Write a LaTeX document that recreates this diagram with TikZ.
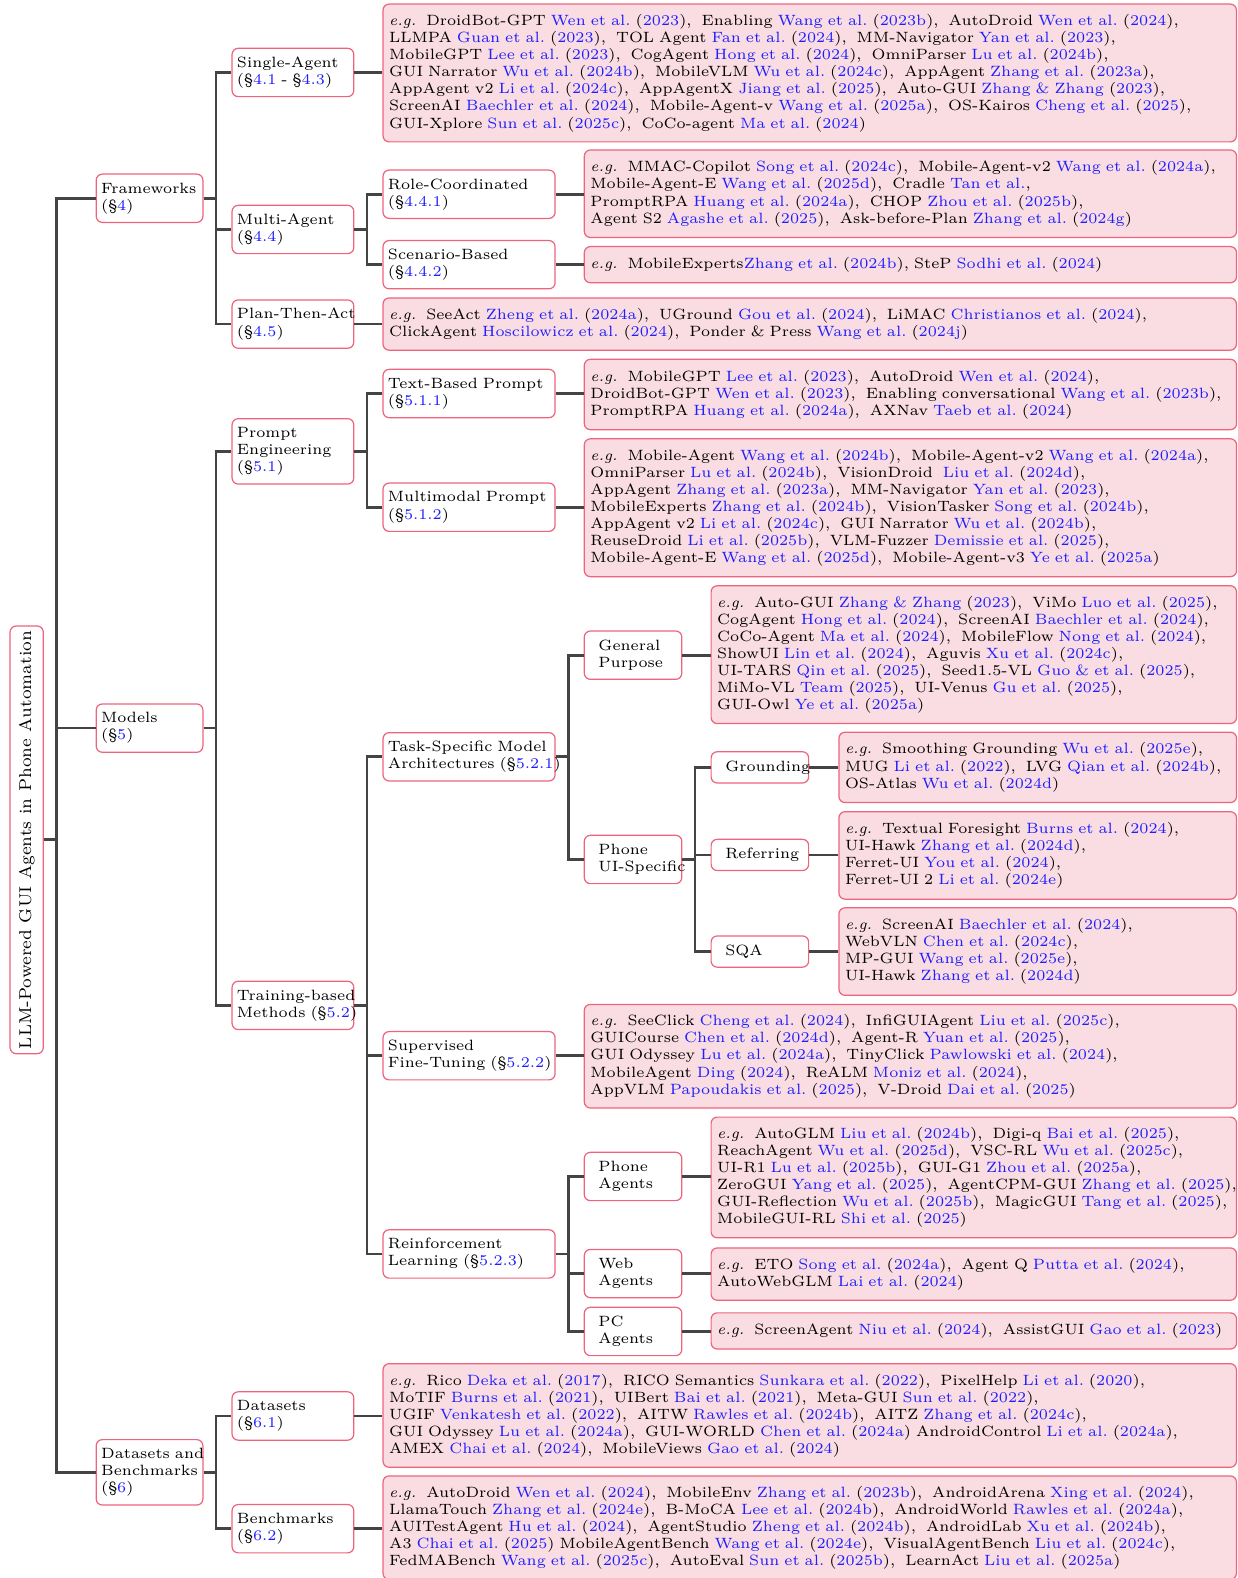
\documentclass[tikz,border=0pt]{standalone}
\usepackage{graphicx}
\usepackage{xcolor}
\definecolor{bordc}{RGB}{238,100,125}
\definecolor{leafc}{RGB}{250,221,226}
\definecolor{linec}{RGB}{68,68,68}
\definecolor{citec}{RGB}{30,30,255}
\newcommand\fs{\fontsize{6.1}{7}\selectfont}
\newcommand\ct[2]{\textcolor{citec}{#1}\ (\textcolor{citec}{#2})}
\newcommand\sref[1]{(\S\textcolor{citec}{#1})}
\newcommand\egx{\textit{e.g.}\ \ }
\newcommand\sepx{,\ \ }
\newcommand\lne[1]{\mbox{#1}}
\newcommand\forkto[2]{\draw[conn] (#1.east) -- ++(12.5,0) |- (#2.west);}
\newcommand\lineto[2]{\draw[conn] (#1.east) -- (#1.east -| #2.west);}
\begin{document}
\begin{tikzpicture}[x=0.4118pt,y=-0.4118pt,
  conn/.style={draw=linec, line width=1.1pt},
  ibox/.style={draw=bordc, fill=white, rounded corners=2.5pt, line width=0.5pt, align=left, anchor=west, font=\fs, inner xsep=2pt, inner ysep=1pt},
  lbox/.style={ibox, fill=leafc, inner xsep=2.5pt},
  wa/.style={text width=39.65pt},
  wb/.style={text width=45.8pt},
  wc/.style={text width=66.4pt},
  wd/.style={inner xsep=5.8pt, text width=28.3pt},
  lwc/.style={text width=344.2pt},
  lwd/.style={text width=261.9pt},
  lwe/.style={text width=210.0pt},
  lwf/.style={text width=157.7pt},
  ha/.style={minimum height=12.77pt},
  hb/.style={minimum height=19.77pt},
  hc/.style={minimum height=26.77pt},
  la/.style={minimum height=14.8pt},
  lb/.style={minimum height=21.4pt},
  lc/.style={minimum height=28.8pt},
  ld/.style={minimum height=35.8pt},
  le/.style={minimum height=42.4pt},
  lf/.style={minimum height=49.4pt},
  lg/.style={minimum height=56.4pt}
]
\useasboundingbox (0,0) rectangle (1230,1568);
% root
\node[ibox, anchor=center, minimum width=13.6pt, minimum height=175pt, inner sep=0pt] (root) at (26.5,834.5)
  {\rotatebox{90}{\fontsize{7}{8.4}\selectfont LLM-Powered GUI Agents in Phone Automation}};
% level 1
\node[ibox,wa,hb] (fw) at (95,197) {\lne{Frameworks}\\\lne{\sref{4}}};
\node[ibox,wa,hb] (models) at (95,723.5) {\lne{Models}\\\lne{\sref{5}}};
\node[ibox,wa,hc] (dnb) at (95,1463) {\lne{Datasets and}\\\lne{Benchmarks}\\\lne{\sref{6}}};
% level 2
\node[ibox,wb,hb] (single) at (230,72) {\lne{Single-Agent}\\\lne{(\S\textcolor{citec}{4.1} - \S\textcolor{citec}{4.3})}};
\node[ibox,wb,hb] (multi) at (230,228) {\lne{Multi-Agent}\\\lne{\sref{4.4}}};
\node[ibox,wb,hb] (plan) at (230,322) {\lne{Plan-Then-Act}\\\lne{\sref{4.5}}};
\node[ibox,wb,hc] (prompt) at (230,448.5) {\lne{Prompt}\\\lne{Engineering}\\\lne{\sref{5.1}}};
\node[ibox,wb,hb] (train) at (230,999) {\lne{Training-based}\\\lne{Methods \sref{5.2}}};
\node[ibox,wb,hb] (datasets) at (230,1407) {\lne{Datasets}\\\lne{\sref{6.1}}};
\node[ibox,wb,hb] (bench) at (230,1519) {\lne{Benchmarks}\\\lne{\sref{6.2}}};
% level 3
\node[ibox,wc,hb] (role) at (380,193) {\lne{Role-Coordinated}\\\lne{\sref{4.4.1}}};
\node[ibox,wc,hb] (scen) at (380,263) {\lne{Scenario-Based}\\\lne{\sref{4.4.2}}};
\node[ibox,wc,hb] (textp) at (380,391) {\lne{Text-Based Prompt}\\\lne{\sref{5.1.1}}};
\node[ibox,wc,hb] (multip) at (380,504) {\lne{Multimodal Prompt}\\\lne{\sref{5.1.2}}};
\node[ibox,wc,hb] (task) at (380,752) {\lne{Task-Specific Model}\\\lne{Architectures \sref{5.2.1}}};
\node[ibox,wc,hb] (sft) at (380,1049) {\lne{Supervised}\\\lne{Fine-Tuning \sref{5.2.2}}};
\node[ibox,wc,hb] (rl) at (380,1246) {\lne{Reinforcement}\\\lne{Learning \sref{5.2.3}}};
% level 4
\node[ibox,wd,hb] (gp) at (580,651) {\lne{General}\\\lne{Purpose}};
\node[ibox,wd,hb] (pui) at (580,854) {\lne{Phone}\\\lne{UI-Specific}};
\node[ibox,wd,hb] (phonea) at (580,1169) {\lne{Phone}\\\lne{Agents}};
\node[ibox,wd,hb] (weba) at (580,1265.5) {\lne{Web}\\\lne{Agents}};
\node[ibox,wd,hb] (pca) at (580,1323) {\lne{PC}\\\lne{Agents}};
% level 5
\node[ibox,wd,ha] (ground) at (706,762.5) {\lne{Grounding}};
\node[ibox,wd,ha] (refer) at (706,849.5) {\lne{Referring}};
\node[ibox,wd,ha] (sqa) at (706,945.5) {\lne{SQA}};
% leaves at 380
\node[lbox,lwc,lg] (singleleaf) at (380,72.5) {%
\lne{\egx DroidBot-GPT \ct{Wen et al.}{2023}\sepx Enabling \ct{Wang et al.}{2023b}\sepx AutoDroid \ct{Wen et al.}{2024},}\\
\lne{LLMPA \ct{Guan et al.}{2023}\sepx TOL Agent \ct{Fan et al.}{2024}\sepx MM-Navigator \ct{Yan et al.}{2023},}\\
\lne{MobileGPT \ct{Lee et al.}{2023}\sepx CogAgent \ct{Hong et al.}{2024}\sepx OmniParser \ct{Lu et al.}{2024b},}\\
\lne{GUI Narrator \ct{Wu et al.}{2024b}\sepx MobileVLM \ct{Wu et al.}{2024c}\sepx AppAgent \ct{Zhang et al.}{2023a},}\\
\lne{AppAgent v2 \ct{Li et al.}{2024c}\sepx AppAgentX \ct{Jiang et al.}{2025}\sepx Auto-GUI \ct{Zhang \& Zhang}{2023},}\\
\lne{ScreenAI \ct{Baechler et al.}{2024}\sepx Mobile-Agent-v \ct{Wang et al.}{2025a}\sepx OS-Kairos \ct{Cheng et al.}{2025},}\\
\lne{GUI-Xplore \ct{Sun et al.}{2025c}\sepx CoCo-agent \ct{Ma et al.}{2024}}};
\node[lbox,lwc,lb] (planleaf) at (380,322) {%
\lne{\egx SeeAct \ct{Zheng et al.}{2024a}\sepx UGround \ct{Gou et al.}{2024}\sepx LiMAC \ct{Christianos et al.}{2024},}\\
\lne{ClickAgent \ct{Hoscilowicz et al.}{2024}\sepx Ponder \& Press \ct{Wang et al.}{2024j}}};
\node[lbox,lwc,le] (datasetsleaf) at (380,1406.5) {%
\lne{\egx Rico \ct{Deka et al.}{2017}\sepx RICO Semantics \ct{Sunkara et al.}{2022}\sepx PixelHelp \ct{Li et al.}{2020},}\\
\lne{MoTIF \ct{Burns et al.}{2021}\sepx UIBert \ct{Bai et al.}{2021}\sepx Meta-GUI \ct{Sun et al.}{2022},}\\
\lne{UGIF \ct{Venkatesh et al.}{2022}\sepx AITW \ct{Rawles et al.}{2024b}\sepx AITZ \ct{Zhang et al.}{2024c},}\\
\lne{GUI Odyssey \ct{Lu et al.}{2024a}\sepx GUI-WORLD \ct{Chen et al.}{2024a} AndroidControl \ct{Li et al.}{2024a},}\\
\lne{AMEX \ct{Chai et al.}{2024}\sepx MobileViews \ct{Gao et al.}{2024}}};
\node[lbox,lwc,le] (benchleaf) at (380,1518) {%
\lne{\egx AutoDroid \ct{Wen et al.}{2024}\sepx MobileEnv \ct{Zhang et al.}{2023b}\sepx AndroidArena \ct{Xing et al.}{2024},}\\
\lne{LlamaTouch \ct{Zhang et al.}{2024e}\sepx B-MoCA \ct{Lee et al.}{2024b}\sepx AndroidWorld \ct{Rawles et al.}{2024a},}\\
\lne{AUITestAgent \ct{Hu et al.}{2024}\sepx AgentStudio \ct{Zheng et al.}{2024b}\sepx AndroidLab \ct{Xu et al.}{2024b},}\\
\lne{A3 \ct{Chai et al.}{2025} MobileAgentBench \ct{Wang et al.}{2024e}\sepx VisualAgentBench \ct{Liu et al.}{2024c},}\\
\lne{FedMABench \ct{Wang et al.}{2025c}\sepx AutoEval \ct{Sun et al.}{2025b}\sepx LearnAct \ct{Liu et al.}{2025a}}};
% leaves at 580
\node[lbox,lwd,ld] (roleleaf) at (580,192.5) {%
\lne{\egx MMAC-Copilot \ct{Song et al.}{2024c}\sepx Mobile-Agent-v2 \ct{Wang et al.}{2024a},}\\
\lne{Mobile-Agent-E \ct{Wang et al.}{2025d}\sepx Cradle \textcolor{citec}{Tan et al.},}\\
\lne{PromptRPA \ct{Huang et al.}{2024a}\sepx CHOP \ct{Zhou et al.}{2025b},}\\
\lne{Agent S2 \ct{Agashe et al.}{2025}\sepx Ask-before-Plan \ct{Zhang et al.}{2024g}}};
\node[lbox,lwd,la] (scenleaf) at (580,263) {%
\lne{\egx MobileExperts\textcolor{citec}{Zhang et al.}\ (\textcolor{citec}{2024b}), SteP \ct{Sodhi et al.}{2024}}};
\node[lbox,lwd,lc] (textleaf) at (580,392) {%
\lne{\egx MobileGPT \ct{Lee et al.}{2023}\sepx AutoDroid \ct{Wen et al.}{2024},}\\
\lne{DroidBot-GPT \ct{Wen et al.}{2023}\sepx Enabling conversational \ct{Wang et al.}{2023b},}\\
\lne{PromptRPA \ct{Huang et al.}{2024a}\sepx AXNav \ct{Taeb et al.}{2024}}};
\node[lbox,lwd,lg] (multileaf) at (580,504.5) {%
\lne{\egx Mobile-Agent \ct{Wang et al.}{2024b}\sepx Mobile-Agent-v2 \ct{Wang et al.}{2024a},}\\
\lne{OmniParser \ct{Lu et al.}{2024b}\sepx VisionDroid\ \ \ct{Liu et al.}{2024d},}\\
\lne{AppAgent \ct{Zhang et al.}{2023a}\sepx MM-Navigator \ct{Yan et al.}{2023},}\\
\lne{MobileExperts \ct{Zhang et al.}{2024b}\sepx VisionTasker \ct{Song et al.}{2024b},}\\
\lne{AppAgent v2 \ct{Li et al.}{2024c}\sepx GUI Narrator \ct{Wu et al.}{2024b},}\\
\lne{ReuseDroid \ct{Li et al.}{2025b}\sepx VLM-Fuzzer \ct{Demissie et al.}{2025},}\\
\lne{Mobile-Agent-E \ct{Wang et al.}{2025d}\sepx Mobile-Agent-v3 \ct{Ye et al.}{2025a}}};
\node[lbox,lwd,le] (sftleaf) at (580,1049.5) {%
\lne{\egx SeeClick \ct{Cheng et al.}{2024}\sepx InfiGUIAgent \ct{Liu et al.}{2025c},}\\
\lne{GUICourse \ct{Chen et al.}{2024d}\sepx Agent-R \ct{Yuan et al.}{2025},}\\
\lne{GUI Odyssey \ct{Lu et al.}{2024a}\sepx TinyClick \ct{Pawlowski et al.}{2024},}\\
\lne{MobileAgent \ct{Ding}{2024}\sepx ReALM \ct{Moniz et al.}{2024},}\\
\lne{AppVLM \ct{Papoudakis et al.}{2025}\sepx V-Droid \ct{Dai et al.}{2025}}};
% leaves at 706
\node[lbox,lwe,lg] (gpleaf) at (706,650.5) {%
\lne{\egx Auto-GUI \ct{Zhang \& Zhang}{2023}\sepx ViMo \ct{Luo et al.}{2025},}\\
\lne{CogAgent \ct{Hong et al.}{2024}\sepx ScreenAI \ct{Baechler et al.}{2024},}\\
\lne{CoCo-Agent \ct{Ma et al.}{2024}\sepx MobileFlow \ct{Nong et al.}{2024},}\\
\lne{ShowUI \ct{Lin et al.}{2024}\sepx Aguvis \ct{Xu et al.}{2024c},}\\
\lne{UI-TARS \ct{Qin et al.}{2025}\sepx Seed1.5-VL \ct{Guo \& et al.}{2025},}\\
\lne{MiMo-VL \ct{Team}{2025}\sepx UI-Venus \ct{Gu et al.}{2025},}\\
\lne{GUI-Owl \ct{Ye et al.}{2025a}}};
\node[lbox,lwe,lf] (phoneleaf) at (706,1170) {%
\lne{\egx AutoGLM \ct{Liu et al.}{2024b}\sepx Digi-q \ct{Bai et al.}{2025},}\\
\lne{ReachAgent \ct{Wu et al.}{2025d}\sepx VSC-RL \ct{Wu et al.}{2025c},}\\
\lne{UI-R1 \ct{Lu et al.}{2025b}\sepx GUI-G1 \ct{Zhou et al.}{2025a},}\\
\lne{ZeroGUI \ct{Yang et al.}{2025}\sepx AgentCPM-GUI \ct{Zhang et al.}{2025},}\\
\lne{GUI-Reflection \ct{Wu et al.}{2025b}\sepx MagicGUI \ct{Tang et al.}{2025},}\\
\lne{MobileGUI-RL \ct{Shi et al.}{2025}}};
\node[lbox,lwe,lb] (webleaf) at (706,1266) {%
\lne{\egx ETO \ct{Song et al.}{2024a}\sepx Agent Q \ct{Putta et al.}{2024},}\\
\lne{AutoWebGLM \ct{Lai et al.}{2024}}};
\node[lbox,lwe,la] (pcleaf) at (706,1322.5) {%
\lne{\egx ScreenAgent \ct{Niu et al.}{2024}\sepx AssistGUI \ct{Gao et al.}{2023}}};
% leaves at 833
\node[lbox,lwf,lc] (groundleaf) at (833,762.5) {%
\lne{\egx Smoothing Grounding \ct{Wu et al.}{2025e},}\\
\lne{MUG \ct{Li et al.}{2022}\sepx LVG \ct{Qian et al.}{2024b},}\\
\lne{OS-Atlas \ct{Wu et al.}{2024d}}};
\node[lbox,lwf,ld] (referleaf) at (833,850) {%
\lne{\egx Textual Foresight \ct{Burns et al.}{2024},}\\
\lne{UI-Hawk \ct{Zhang et al.}{2024d},}\\
\lne{Ferret-UI \ct{You et al.}{2024},}\\
\lne{Ferret-UI 2 \ct{Li et al.}{2024e}}};
\node[lbox,lwf,ld] (sqaleaf) at (833,945.5) {%
\lne{\egx ScreenAI \ct{Baechler et al.}{2024},}\\
\lne{WebVLN \ct{Chen et al.}{2024c},}\\
\lne{MP-GUI \ct{Wang et al.}{2025e},}\\
\lne{UI-Hawk \ct{Zhang et al.}{2024d}}};
% connectors
\forkto{root}{fw} \forkto{root}{models} \forkto{root}{dnb}
\forkto{fw}{single} \forkto{fw}{multi} \forkto{fw}{plan}
\forkto{models}{prompt} \forkto{models}{train}
\forkto{dnb}{datasets} \forkto{dnb}{bench}
\lineto{single}{singleleaf}
\forkto{multi}{role} \forkto{multi}{scen}
\lineto{plan}{planleaf}
\forkto{prompt}{textp} \forkto{prompt}{multip}
\forkto{train}{task} \forkto{train}{sft} \forkto{train}{rl}
\lineto{datasets}{datasetsleaf} \lineto{bench}{benchleaf}
\lineto{role}{roleleaf} \lineto{scen}{scenleaf}
\lineto{textp}{textleaf} \lineto{multip}{multileaf}
\forkto{task}{gp} \forkto{task}{pui}
\lineto{sft}{sftleaf}
\forkto{rl}{phonea} \forkto{rl}{weba} \forkto{rl}{pca}
\lineto{gp}{gpleaf}
\forkto{pui}{ground} \forkto{pui}{refer} \forkto{pui}{sqa}
\lineto{phonea}{phoneleaf} \lineto{weba}{webleaf} \lineto{pca}{pcleaf}
\lineto{ground}{groundleaf} \lineto{refer}{referleaf} \lineto{sqa}{sqaleaf}
\end{tikzpicture}
\end{document}
